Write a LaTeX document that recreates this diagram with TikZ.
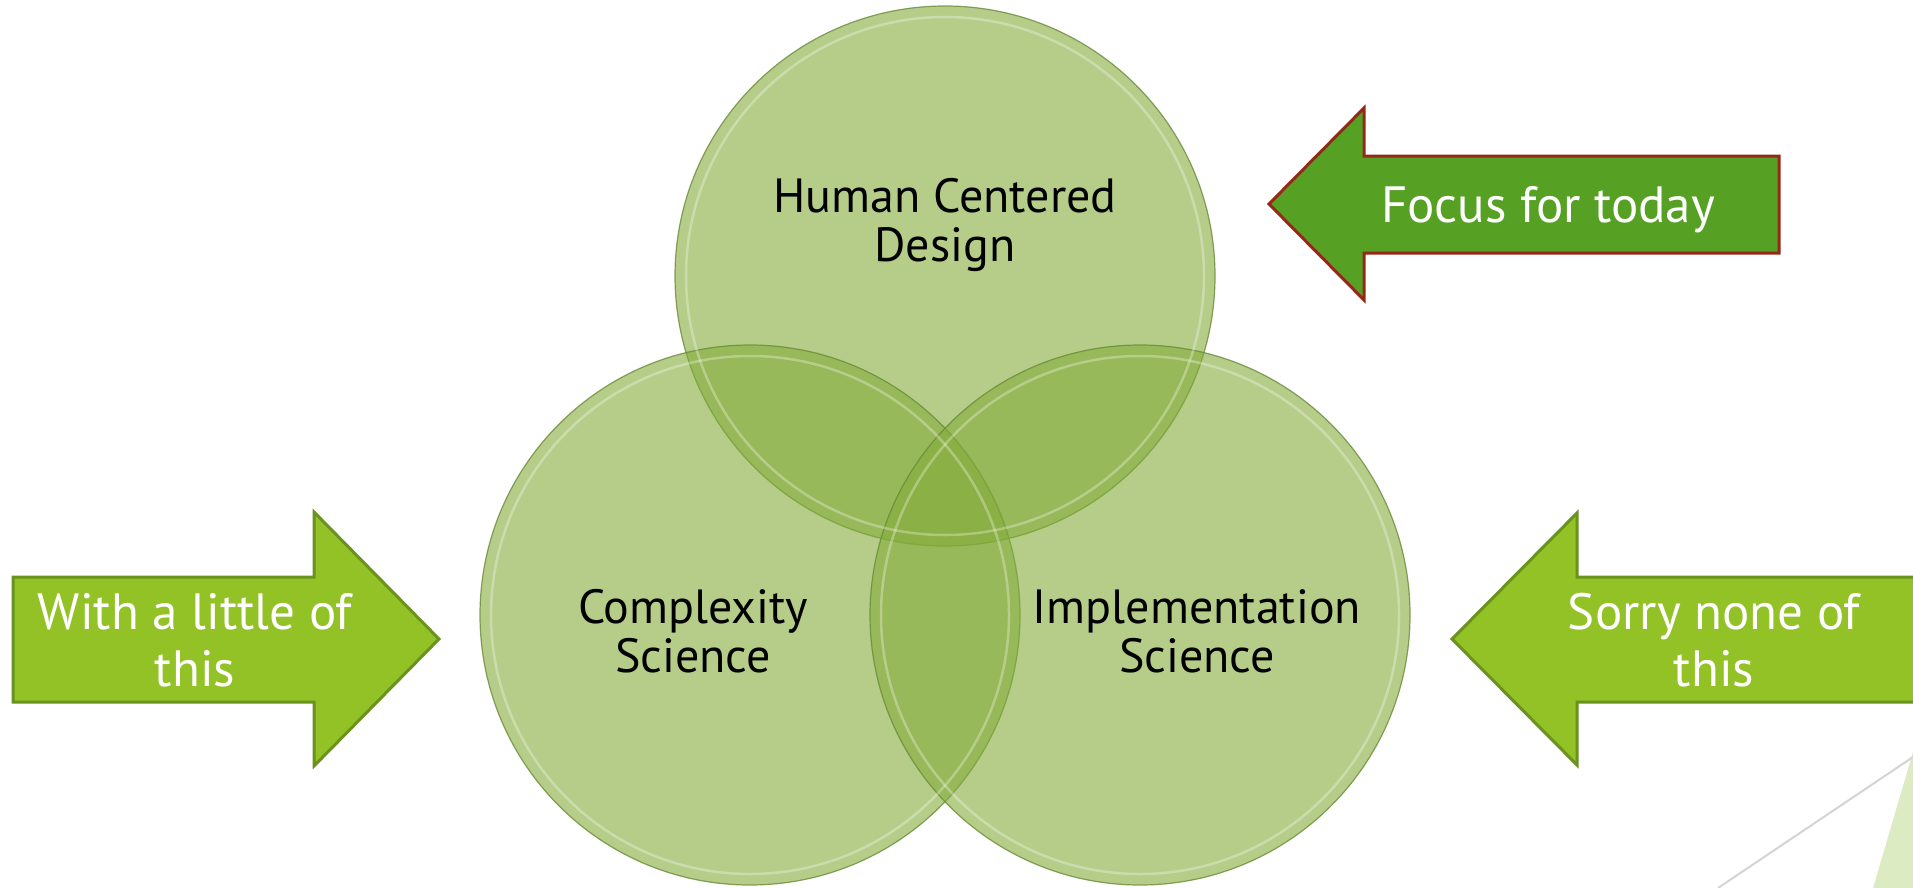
\documentclass[tikz,border=0pt]{standalone}
\usepackage{fontspec}
\setmainfont{PT Sans}
\definecolor{circfill}{RGB}{131,171,57}
\definecolor{circedge}{RGB}{105,140,55}
\definecolor{arrowfill}{RGB}{146,194,38}
\definecolor{arrowedge}{RGB}{106,146,30}
\definecolor{focusfill}{RGB}{86,161,36}
\definecolor{focusedge}{RGB}{150,40,25}
\definecolor{decogreen}{RGB}{221,235,194}
\definecolor{decogray}{RGB}{212,212,212}
\tikzset{
  venn/.style={circle, minimum size=540pt, inner sep=0pt, draw=circedge, line width=1.2pt, fill=circfill, fill opacity=0.6, draw opacity=0.8},
  shine/.style={draw=white, line width=2.5pt, opacity=0.3},
  circtext/.style={align=center, inner sep=0pt, text=black, font=\fontsize{48}{49}\selectfont},
  sidearrow/.style={fill=arrowfill, draw=arrowedge, line width=3pt, line join=miter},
  focusarrow/.style={fill=focusfill, draw=focusedge, line width=3pt, line join=miter},
  arrowtext/.style={align=center, inner sep=0pt, text=white, font=\fontsize{51}{57}\selectfont}
}
\begin{document}
\begin{tikzpicture}[x=1pt,y=-1pt]
\useasboundingbox (0,0) rectangle (1913,888);
\clip (0,0) rectangle (1913,888);
% decoration bottom right
\fill[decogreen] (1873,888) -- (1913,752) -- (1913,888) -- cycle;
\draw[decogray, line width=2pt] (1718,888) -- (1913,757);
% circles
\node[venn] (hcd) at (945,276) {};
\node[venn] (cs) at (750,615) {};
\node[venn] (is) at (1140,615) {};
\foreach \c in {hcd,cs,is}{
  \draw[shine] (\c.center) circle[radius=259pt];
}
\node[circtext] (thcd) at (945,225) {Human Centered\\Design};
\node[circtext] (tcs) at (693,631) {Complexity\\Science};
\node[circtext] (tis) at (1197,631) {Implementation\\Science};
% arrows
\draw[sidearrow] (13,577) -- (314,577) -- (314,512) -- (439,639) -- (314,766) -- (314,702) -- (13,702) -- cycle;
\node[arrowtext] (tleft) at (195,640) {With a little of\\this};
\draw[sidearrow] (1935,577) -- (1577,577) -- (1577,513) -- (1452,639) -- (1577,765) -- (1577,702) -- (1935,702) -- cycle;
\node[arrowtext] (tright) at (1714,640) {Sorry none of\\this};
\draw[focusarrow] (1779,156) -- (1364,156) -- (1364,108) -- (1269,204) -- (1364,300) -- (1364,253) -- (1779,253) -- cycle;
\node[arrowtext] (tfocus) at (1548,210) {Focus for today};
\end{tikzpicture}
\end{document}
